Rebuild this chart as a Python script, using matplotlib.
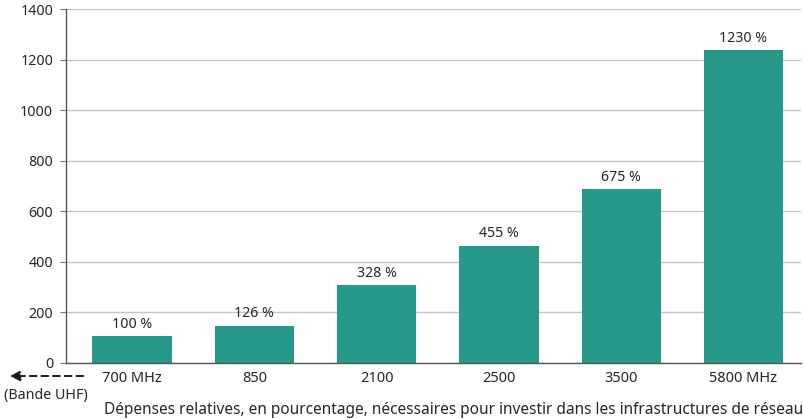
import matplotlib
matplotlib.use("Agg")
import matplotlib.pyplot as plt

categories = ["700 MHz", "850", "2100", "2500", "3500", "5800 MHz"]
bar_heights = [106, 147, 308, 464, 688, 1239]
bar_labels = ["100 %", "126 %", "328 %", "455 %", "675 %", "1230 %"]
yticks = [0, 200, 400, 600, 800, 1000, 1200, 1400]
xlabel = "Dépenses relatives, en pourcentage, nécessaires pour investir dans les infrastructures de réseau"
uhf_label = "(Bande UHF)"

plt.rcParams['font.family'] = ['Noto Sans', 'DejaVu Sans']
txt = "#262626"
bar_color = "#26998a"

fig = plt.figure(figsize=(8.04, 4.19), dpi=100)
ax = fig.add_axes([0.0817, 0.1344, 0.9146, 0.8434])

x = list(range(len(categories)))
bars = ax.bar(x, bar_heights, width=0.65, color=bar_color, zorder=3)
for xi, h, lab in zip(x, bar_heights, bar_labels):
    ax.annotate(lab, (xi, h), xytext=(0, 3), textcoords="offset points",
                ha="center", va="bottom", fontsize=10.2, color=txt)

ax.set_xlim(-0.543, 5.47)
ax.set_ylim(0, 1400)
ax.set_yticks(yticks)
ax.set_yticklabels([str(v) for v in yticks])
ax.set_xticks(x)
ax.set_xticklabels(categories)
ax.tick_params(axis="y", length=4, width=0.8, color="#777777", labelsize=10.3, labelcolor=txt, pad=5)
ax.tick_params(axis="x", length=0, labelsize=10.5, labelcolor=txt, pad=6)
ax.grid(axis="y", color="#c4c4c4", linewidth=1.0, zorder=0)
for s in ["top", "right"]:
    ax.spines[s].set_visible(False)
ax.spines["left"].set_color("#555555")
ax.spines["left"].set_linewidth(1.0)
ax.spines["bottom"].set_color("#555555")
ax.spines["bottom"].set_linewidth(1.0)
ax.spines["bottom"].set_zorder(4)

fig.text(0.9988, 0.021, xlabel, ha="right", va="center", fontsize=11.1, color=txt)
fig.text(0.057, 0.055, uhf_label, ha="center", va="center", fontsize=10.3, color=txt)
ax.annotate("", xy=(7 / 804, 1 - 376 / 419), xycoords="figure fraction",
            xytext=(86 / 804, 1 - 376 / 419), textcoords="figure fraction",
            arrowprops=dict(arrowstyle="-|>", linestyle=(0, (3.5, 2.5)), color="#1a1a1a",
                            linewidth=1.4, mutation_scale=15))

fig.savefig("out.png", dpi=100)
